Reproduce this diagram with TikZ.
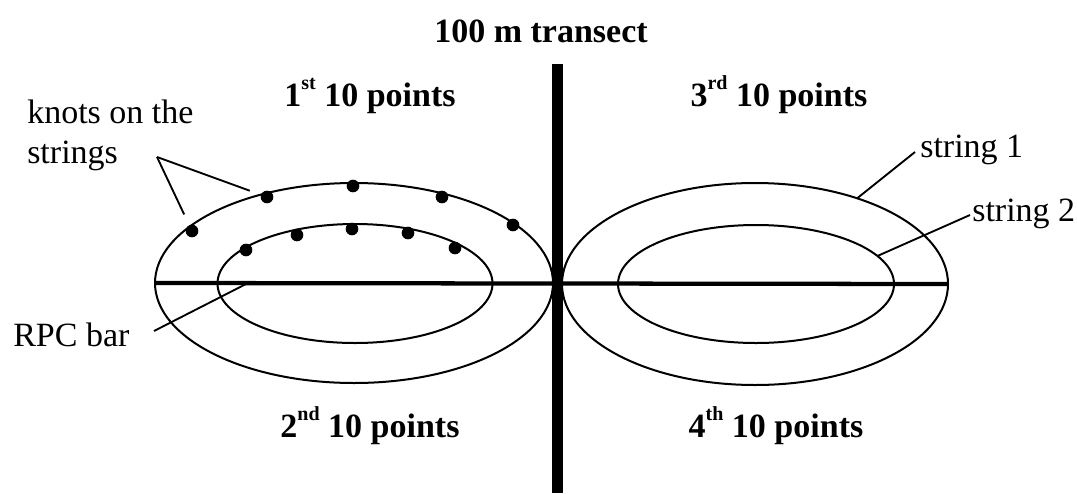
\documentclass[tikz,border=0pt]{standalone}
\usepackage{fontspec}
\setmainfont{Liberation Serif}
\usetikzlibrary{shapes.geometric}
\newcommand{\supx}[1]{\raisebox{0.5em}{\fontsize{15}{15}\selectfont #1}}
\begin{document}
\begin{tikzpicture}[x=0.75pt,y=-0.75pt,
  ring/.style={draw, ellipse, inner sep=0pt, outer sep=0pt, line width=1.5pt},
  knot/.style={circle, fill=black, inner sep=0pt, outer sep=0pt, minimum size=9.5pt},
  lbl/.style={inner sep=0pt, font=\fontsize{25.5}{30}\selectfont},
  hdr/.style={inner sep=0pt, font=\fontsize{25.5}{30}\selectfont\bfseries},
  callout/.style={line width=1.4pt},
  transect/.style={line width=8.25pt},
  bar/.style={line width=3.2pt}]
\useasboundingbox (0,0) rectangle (1077,493);
% strings
\node[ring, minimum width=298.5pt, minimum height=150pt] (o1) at (354,283) {};
\node[ring, minimum width=206.25pt, minimum height=89.25pt] (i1) at (355,283.5) {};
\node[ring, minimum width=289.5pt, minimum height=151.5pt] (o2) at (755,284) {};
\node[ring, minimum width=207pt, minimum height=88.5pt] (i2) at (756,284) {};
% RPC bar
\draw[bar] (o1.west) -- (o2.east);
% transect
\coordinate (tt) at (557,64);
\coordinate (tb) at (557,493);
\draw[transect] (tt) -- (tb);
% knots
\node[knot] (d1) at (192,231) {};
\node[knot] (d2) at (267,197) {};
\node[knot] (d3) at (353,186) {};
\node[knot] (d4) at (442,197) {};
\node[knot] (d5) at (513,225) {};
\node[knot] (e1) at (246,250) {};
\node[knot] (e2) at (297,235) {};
\node[knot] (e3) at (352,229) {};
\node[knot] (e4) at (408,233) {};
\node[knot] (e5) at (455,248) {};
% labels
\node[hdr, anchor=base] (t0) at (541,42) {100 m transect};
\node[hdr, anchor=base] (t1) at (370,106) {1\supx{st} 10 points};
\node[hdr, anchor=base] (t3) at (779,106) {3\supx{rd} 10 points};
\node[hdr, anchor=base] (t2) at (370,437) {2\supx{nd} 10 points};
\node[hdr, anchor=base] (t4) at (776,437) {4\supx{th} 10 points};
\node[lbl, anchor=base west] (k1) at (27,123) {knots on the};
\node[lbl, anchor=base west] (k2) at (27,163) {strings};
\node[lbl, anchor=base west] (rpc) at (13,346) {RPC bar};
\node[lbl, anchor=base west] (s1) at (920,157) {string 1};
\node[lbl, anchor=base west] (s2) at (972,221) {string 2};
% callouts
\coordinate (apex) at (157,157);
\draw[callout, shorten >=9pt] (apex) -- (d1);
\draw[callout, shorten >=9pt] (apex) -- (d2);
\coordinate (rpcA) at (154,331);
\coordinate (rpcB) at (248,283);
\draw[callout] (rpcA) -- (rpcB);
\coordinate (s1A) at (915,152);
\draw[callout] (s1A) -- (o2.40.7);
\coordinate (s2A) at (970,215);
\draw[callout] (s2A) -- (i2.13.3);
\end{tikzpicture}
\end{document}
